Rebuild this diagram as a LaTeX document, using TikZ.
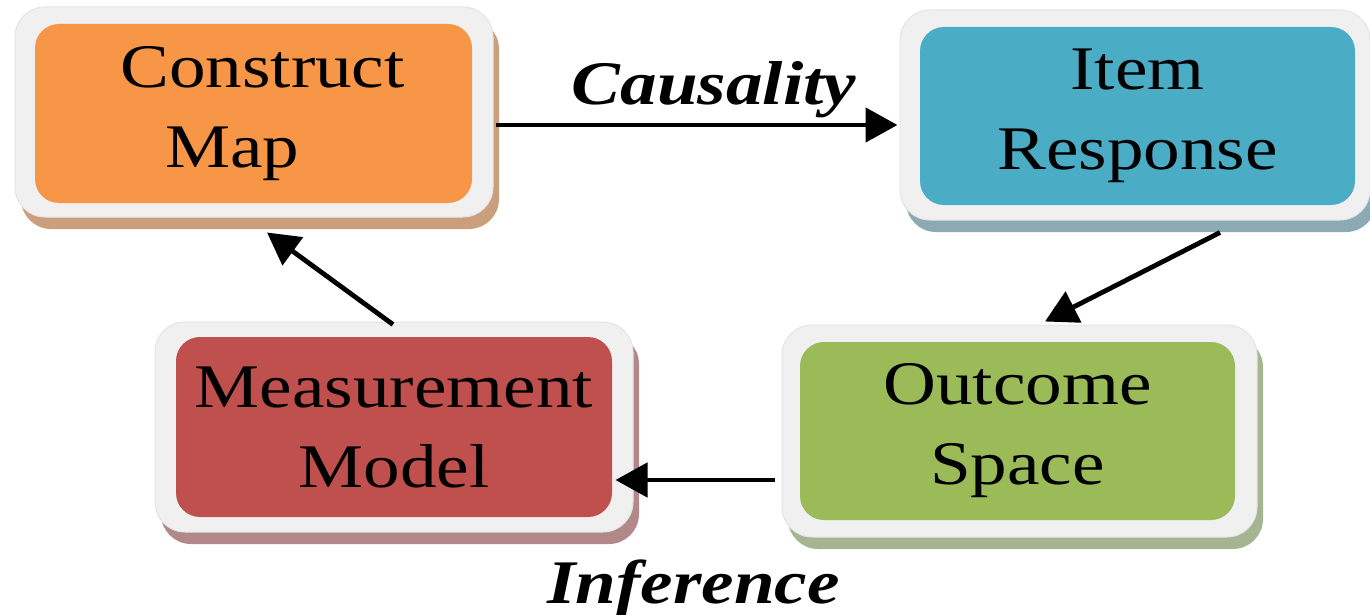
\documentclass[tikz,border=0pt]{standalone}
\usepackage{fontspec}
\setmainfont[FakeStretch=1.18]{Liberation Serif}
\usetikzlibrary{arrows.meta,calc,shadows}
\definecolor{cmfill}{RGB}{247,150,70}
\definecolor{irfill}{RGB}{75,172,198}
\definecolor{mmfill}{RGB}{192,80,77}
\definecolor{osfill}{RGB}{155,187,89}
\definecolor{cmshadow}{RGB}{203,158,124}
\definecolor{irshadow}{RGB}{140,170,180}
\definecolor{mmshadow}{RGB}{178,136,136}
\definecolor{osshadow}{RGB}{165,180,145}
\definecolor{framegray}{RGB}{240,240,240}
\definecolor{frameedge}{RGB}{228,228,228}
\begin{document}
\begin{tikzpicture}[x=1pt,y=-1pt,
  frame/.style={fill=framegray, draw=frameedge, line width=1pt, rounded corners=30pt, inner sep=0pt},
  fshadow/.style={drop shadow={shadow xshift=6pt, shadow yshift=-12pt, fill=#1, opacity=1}},
  inner/.style={fill=#1, rounded corners=24pt, inner sep=0pt, align=center, text=black,
    font=\fontsize{62}{80}\selectfont},
  arr/.style={line width=4.8pt, -{Triangle[length=32pt,width=34pt]}},
  lbl/.style={font=\fontsize{62}{74}\selectfont\bfseries\itshape, anchor=base, inner sep=0pt}
]
\useasboundingbox (0,0) rectangle (1370,615);
\fill[white] (0,0) rectangle (1370,615);

% Construct Map
\node[frame, fshadow=cmshadow, minimum width=478pt, minimum height=210pt] (cmo) at (254,112) {};
\node[inner=cmfill, minimum width=437pt, minimum height=179pt] (cm) at (253.5,113.5)
  {\hspace*{18pt}Construct\\Map\hspace*{42pt}};

% Item Response
\node[frame, fshadow=irshadow, minimum width=470pt, minimum height=210pt] (iro) at (1135,115) {};
\node[inner=irfill, minimum width=435pt, minimum height=178pt] (ir) at (1137.5,116)
  {Item\\Response};

% Measurement Model
\node[frame, fshadow=mmshadow, minimum width=478pt, minimum height=210pt] (mmo) at (394,427) {};
\node[inner=mmfill, minimum width=436pt, minimum height=180pt] (mm) at (394,427)
  {Measurement\\Model};

% Outcome Space
\node[frame, fshadow=osshadow, minimum width=475pt, minimum height=212pt] (oso) at (1019.5,431) {};
\node[inner=osfill, minimum width=435pt, minimum height=178pt] (os) at (1017.5,431)
  {Outcome\\Space};

% connectors
\draw[arr] ($(cmo.east)+(2,13)$) -- ($(iro.west)+(-2,10)$);
\draw[arr] ($(iro.south)+(85,12)$) -- ($(oso.north)+(25.5,-3)$);
\draw[arr] ($(oso.west)+(-7,49)$) -- ($(mmo.east)+(-18,53)$);
\draw[arr] ($(mmo.north)+(-1,3)$) -- ($(cmo.south)+(13,15)$);

% labels
\node[lbl] (causality) at (714,105) {Causality};
\node[lbl] (inference) at (693.5,603) {Inference};
\end{tikzpicture}
\end{document}
